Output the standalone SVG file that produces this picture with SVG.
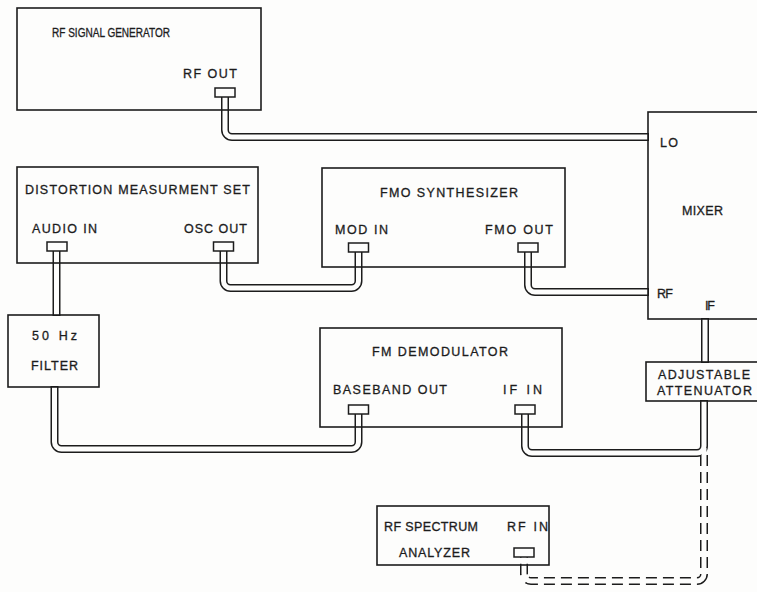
<svg xmlns="http://www.w3.org/2000/svg" width="757" height="592" viewBox="0 0 757 592">
  <style>
    .box { fill: none; stroke: #1c1c1c; stroke-width: 1.6; }
    .port { fill: #fdfdfc; stroke: #1c1c1c; stroke-width: 1.5; }
    .t { font-family: "Liberation Sans", Arial, sans-serif; font-size: 12.5px; fill: #1c1c1c; stroke: #1c1c1c; stroke-width: 0.3; }
    .co { fill: none; stroke: #1c1c1c; stroke-width: 8; stroke-linejoin: round; }
    .ci { fill: none; stroke: #fdfdfc; stroke-width: 5; stroke-linejoin: round; }
    .dash { stroke-dasharray: 11 6; }
  </style>
  <rect x="0" y="0" width="757" height="592" fill="#fdfdfc"/>

  <g id="connectors">
    <!-- outer (black) strokes -->
    <path class="co" d="M225 96 V130 A7 7 0 0 0 232 137 H649"/>
    <path class="co" d="M223.5 251 V281 A7 7 0 0 0 230.5 288 H351.5 A7 7 0 0 0 358.5 281 V251"/>
    <path class="co" d="M528 251 V285 A7 7 0 0 0 535 292 H649"/>
    <path class="co" d="M56.5 250 V316"/>
    <path class="co" d="M54.5 386 V442 A7 7 0 0 0 61.5 449 H351.5 A7 7 0 0 0 358.5 442 V414"/>
    <path class="co" d="M525 414 V446 A7 7 0 0 0 532 453 H697 A7 7 0 0 0 704 446 V400"/>
    <path class="co" d="M705 318 V363"/>
    <path class="co dash" d="M704 455 V574 A7 7 0 0 1 697 581 H531 A7 7 0 0 1 524 574 V556"/>
    <!-- inner (white) strokes -->
    <path class="ci" d="M225 96 V130 A7 7 0 0 0 232 137 H648"/>
    <path class="ci" d="M223.5 251 V281 A7 7 0 0 0 230.5 288 H351.5 A7 7 0 0 0 358.5 281 V251"/>
    <path class="ci" d="M528 251 V285 A7 7 0 0 0 535 292 H648"/>
    <path class="ci" d="M56.5 250 V315"/>
    <path class="ci" d="M54.5 387 V442 A7 7 0 0 0 61.5 449 H351.5 A7 7 0 0 0 358.5 442 V414"/>
    <path class="ci" d="M525 414 V446 A7 7 0 0 0 532 453 H697 A7 7 0 0 0 704 446 V401"/>
    <path class="ci" d="M705 319 V362"/>
    <path class="ci" d="M704 448 V574 A7 7 0 0 1 697 581 H531 A7 7 0 0 1 524 574 V556"/>
  </g>

  <g id="rf-signal-generator">
    <rect class="box" x="17" y="8" width="244" height="102"/>
    <text class="t" x="52" y="37" textLength="118" lengthAdjust="spacingAndGlyphs">RF SIGNAL GENERATOR</text>
    <text class="t" x="183" y="78" textLength="54" lengthAdjust="spacing">RF OUT</text>
    <rect class="port" x="215" y="88" width="20" height="9"/>
  </g>

  <g id="distortion-measurement-set">
    <rect class="box" x="17" y="167" width="241" height="96"/>
    <text class="t" x="25" y="194" textLength="225" lengthAdjust="spacing">DISTORTION MEASURMENT SET</text>
    <text class="t" x="32" y="233" textLength="65" lengthAdjust="spacing">AUDIO IN</text>
    <text class="t" x="184" y="233" textLength="63" lengthAdjust="spacing">OSC OUT</text>
    <rect class="port" x="47" y="242" width="20" height="9"/>
    <rect class="port" x="213.5" y="242" width="20" height="9"/>
  </g>

  <g id="fmo-synthesizer">
    <rect class="box" x="322" y="168" width="243" height="99"/>
    <text class="t" x="380" y="197" textLength="138" lengthAdjust="spacing">FMO SYNTHESIZER</text>
    <text class="t" x="335" y="234" textLength="53" lengthAdjust="spacing">MOD IN</text>
    <text class="t" x="485" y="234" textLength="68" lengthAdjust="spacing">FMO OUT</text>
    <rect class="port" x="348.5" y="243" width="20" height="9"/>
    <rect class="port" x="518" y="243" width="20" height="9"/>
  </g>

  <g id="mixer">
    <rect class="box" x="648" y="112" width="130" height="207"/>
    <text class="t" x="660" y="147" textLength="18" lengthAdjust="spacing">LO</text>
    <text class="t" x="682" y="215" textLength="41" lengthAdjust="spacing">MIXER</text>
    <text class="t" x="657" y="298" textLength="16" lengthAdjust="spacing">RF</text>
    <text class="t" x="705" y="310" textLength="10" lengthAdjust="spacing">IF</text>
  </g>

  <g id="filter-50hz">
    <rect class="box" x="8" y="315" width="91" height="72"/>
    <text class="t" x="32" y="340" textLength="45" lengthAdjust="spacing">50 Hz</text>
    <text class="t" x="31" y="370" textLength="47" lengthAdjust="spacing">FILTER</text>
  </g>

  <g id="fm-demodulator">
    <rect class="box" x="320" y="328" width="242" height="99"/>
    <text class="t" x="372" y="356" textLength="136" lengthAdjust="spacing">FM DEMODULATOR</text>
    <text class="t" x="333" y="394" textLength="114" lengthAdjust="spacing">BASEBAND OUT</text>
    <text class="t" x="503" y="394" textLength="39" lengthAdjust="spacing">IF IN</text>
    <rect class="port" x="348.5" y="405" width="20" height="9"/>
    <rect class="port" x="515" y="405" width="20" height="9"/>
  </g>

  <g id="adjustable-attenuator">
    <rect class="box" x="646" y="362" width="130" height="39"/>
    <text class="t" x="658" y="379" textLength="92" lengthAdjust="spacing">ADJUSTABLE</text>
    <text class="t" x="657" y="395" textLength="95" lengthAdjust="spacing">ATTENUATOR</text>
  </g>

  <g id="rf-spectrum-analyzer">
    <rect class="box" x="377" y="506" width="172" height="59"/>
    <text class="t" x="384" y="531" textLength="94" lengthAdjust="spacing">RF SPECTRUM</text>
    <text class="t" x="507" y="531" textLength="41" lengthAdjust="spacing">RF IN</text>
    <text class="t" x="399" y="557" textLength="71" lengthAdjust="spacing">ANALYZER</text>
    <rect class="port" x="514" y="548" width="20" height="9"/>
  </g>
</svg>
